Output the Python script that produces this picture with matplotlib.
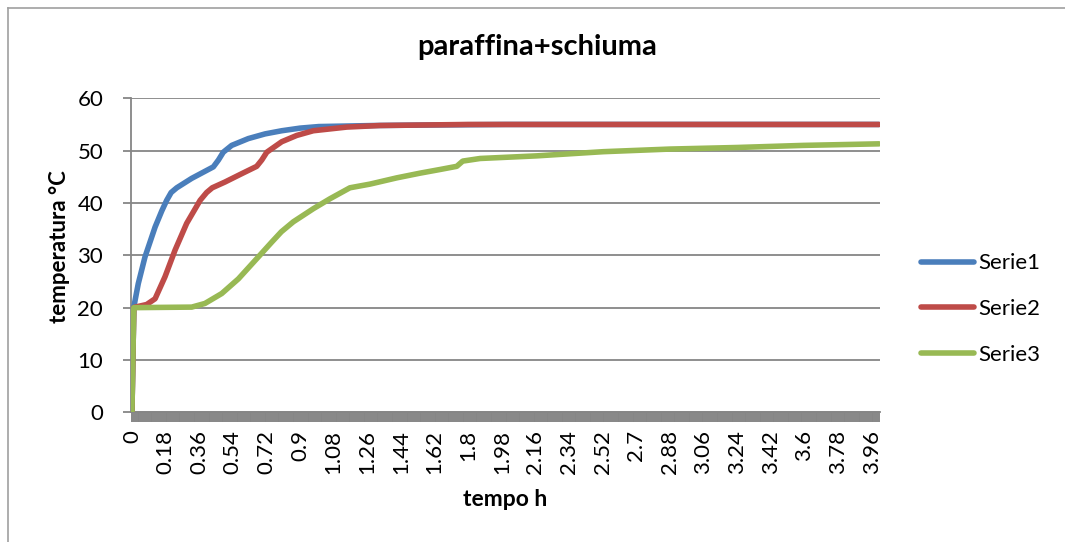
import matplotlib
matplotlib.use("Agg")
import matplotlib.pyplot as plt
from matplotlib.lines import Line2D
from matplotlib.ticker import FixedLocator
import numpy as np

plt.rcParams['font.family'] = ['Lato', 'DejaVu Sans']

title = "paraffina+schiuma"
xlabel = "tempo h"
ylabel = "temperatura °C"
series_names = ["Serie1", "Serie2", "Serie3"]
colors = ["#4A7EBB", "#BE4B48", "#98B954"]

t_serie1 = [0, 0.01, 0.034, 0.070, 0.124, 0.160, 0.186, 0.210, 0.240, 0.320, 0.436,
            0.463, 0.489, 0.534, 0.623, 0.713, 0.802, 0.90, 1.00, 1.30, 1.60, 2.00, 4.00]
T_serie1 = [0, 20.1, 24.6, 29.7, 35.4, 38.5, 40.5, 42.0, 42.9, 44.7, 46.9,
            48.2, 49.7, 51.0, 52.3, 53.2, 53.8, 54.3, 54.6, 54.8, 54.9, 55.0, 55.0]

t_serie2 = [0, 0.01, 0.017, 0.079, 0.124, 0.177, 0.231, 0.293, 0.365, 0.400, 0.430,
            0.498, 0.588, 0.668, 0.695, 0.722, 0.802, 0.882, 0.971, 1.150, 1.328,
            1.80, 4.00]
T_serie2 = [0, 20.0, 20.1, 20.6, 21.7, 25.9, 31.0, 36.1, 40.5, 42.0, 42.9,
            44.0, 45.6, 47.0, 48.2, 49.7, 51.7, 52.9, 53.8, 54.5, 54.8,
            55.0, 55.0]

t_serie3 = [0, 0.01, 0.32, 0.391, 0.481, 0.570, 0.677, 0.748, 0.80, 0.864, 0.971,
            1.060, 1.167, 1.274, 1.418, 1.543, 1.650, 1.739, 1.771, 1.864, 2.167,
            2.524, 2.881, 3.238, 3.594, 4.00]
T_serie3 = [0, 20.0, 20.1, 20.8, 22.7, 25.5, 29.7, 32.5, 34.5, 36.4, 38.9,
            40.8, 42.9, 43.6, 44.8, 45.7, 46.4, 47.0, 48.0, 48.5, 49.0,
            49.8, 50.3, 50.6, 51.0, 51.3]

x_tick_values = [0, 0.18, 0.36, 0.54, 0.72, 0.9, 1.08, 1.26, 1.44, 1.62, 1.8, 1.98,
                 2.16, 2.34, 2.52, 2.7, 2.88, 3.06, 3.24, 3.42, 3.6, 3.78, 3.96]
x_tick_labels = ["0", "0.18", "0.36", "0.54", "0.72", "0.9", "1.08", "1.26", "1.44",
                 "1.62", "1.8", "1.98", "2.16", "2.34", "2.52", "2.7", "2.88", "3.06",
                 "3.24", "3.42", "3.6", "3.78", "3.96"]
y_ticks = [0, 10, 20, 30, 40, 50, 60]

W, H = 1065, 542
fig = plt.figure(figsize=(W / 100, H / 100), dpi=100)
ax = fig.add_axes([131 / W, 1 - 412.3 / H, (880 - 131) / W, (412.3 - 98.3) / H])

grid_c = "#868686"
series = [(t_serie1, T_serie1), (t_serie2, T_serie2), (t_serie3, T_serie3)]
for (tx, ty), c, name in zip(series, colors, series_names):
    ax.plot(tx, ty, color=c, lw=4.0, solid_capstyle='round', solid_joinstyle='round',
            label=name, zorder=3)

ax.set_xlim(-0.005, 4.005)
ax.set_ylim(0, 60)
ax.set_yticks(y_ticks)
ax.yaxis.grid(True, color=grid_c, lw=1.3)
ax.set_axisbelow(True)
ax.xaxis.set_major_locator(FixedLocator(x_tick_values))
ax.set_xticklabels(x_tick_labels, rotation=90, fontsize=16)
ax.xaxis.set_minor_locator(FixedLocator(np.arange(0, 4.0051, 0.01)))
ax.tick_params(axis='x', which='both', direction='out', length=7, width=1.4,
               color=grid_c, pad=6)
ax.tick_params(axis='y', which='major', direction='out', length=6, width=1.3,
               color=grid_c, labelsize=16, pad=14)
for s in ['top', 'right']:
    ax.spines[s].set_visible(False)
ax.spines['left'].set_color(grid_c)
ax.spines['left'].set_linewidth(1.3)
ax.spines['bottom'].set_color(grid_c)
ax.spines['bottom'].set_linewidth(1.3)

fig.text(537 / W, 1 - 47 / H, title, ha='center', va='center', fontsize=21,
         fontweight='bold')
fig.text(505 / W, 1 - 500 / H, xlabel, ha='center', va='center', fontsize=16.5,
         fontweight='bold')
fig.text(59 / W, 1 - 247 / H, ylabel, ha='center', va='center', fontsize=16,
         fontweight='bold', rotation=90)

# legend
handles = [Line2D([0], [0], color=c, lw=4.0, solid_capstyle='round') for c in colors]
leg = fig.legend(handles, series_names, loc='center left',
                 bbox_to_anchor=(912 / W, 1 - 309 / H), frameon=False, fontsize=16,
                 handlelength=2.4, handletextpad=0.2, labelspacing=1.15,
                 borderaxespad=0)

# chart border
fig.add_artist(Line2D([8 / W, 8 / W], [0, 1 - 8 / H], color="#A0A0A0", lw=1.2,
                      transform=fig.transFigure))
fig.add_artist(Line2D([8 / W, 1], [1 - 8 / H, 1 - 8 / H], color="#A0A0A0", lw=1.2,
                      transform=fig.transFigure))

fig.savefig("out.png", dpi=100)
